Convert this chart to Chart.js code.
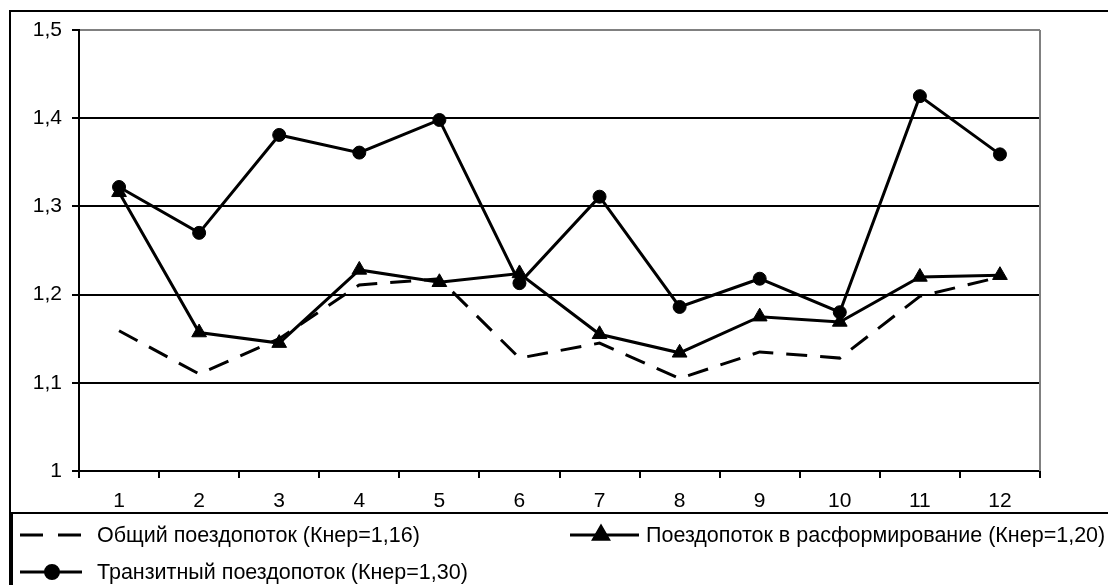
<!DOCTYPE html>
<html>
<head>
<meta charset="utf-8">
<script src="https://cdn.jsdelivr.net/npm/chart.js@4/dist/chart.umd.min.js"></script>
<style>
  html, body { margin: 0; padding: 0; background: #fff; }
  #wrap { width: 1108px; height: 585px; position: relative; }
</style>
</head>
<body>
<div id="wrap"><canvas id="myChart" width="1108" height="585"></canvas></div>
<script>
// data
const categories = ["1", "2", "3", "4", "5", "6", "7", "8", "9", "10", "11", "12"];
const obshchiy = [1.159, 1.110, 1.150, 1.211, 1.218, 1.128, 1.145, 1.105, 1.135, 1.128, 1.198, 1.220];
const rasform = [1.316, 1.157, 1.145, 1.228, 1.214, 1.224, 1.155, 1.134, 1.175, 1.169, 1.220, 1.222];
const tranzit = [1.322, 1.270, 1.381, 1.361, 1.398, 1.213, 1.311, 1.186, 1.218, 1.180, 1.425, 1.359];
const yTickLabels = ["1", "1,1", "1,2", "1,3", "1,4", "1,5"];
const seriesNames = [
  "Общий поездопоток (Кнер=1,16)",
  "Поездопоток в расформирование (Кнер=1,20)",
  "Транзитный поездопоток (Кнер=1,30)"
];

const FONT = "'Liberation Sans', Arial, sans-serif";
const DASH = [21, 13];

// frame, plot border and legend
const framePlugin = {
  id: "frame",
  afterDraw(chart) {
    const ctx = chart.ctx;
    const a = chart.chartArea;
    ctx.save();
    // grey right border of plot area
    ctx.strokeStyle = "#808080";
    ctx.lineWidth = 2;
    ctx.beginPath();
    ctx.moveTo(a.right, a.top);
    ctx.lineTo(a.right, a.bottom);
    ctx.stroke();

    // outer frame
    ctx.strokeStyle = "#000";
    ctx.lineWidth = 2;
    ctx.beginPath();
    ctx.moveTo(1108, 11);
    ctx.lineTo(10, 11);
    ctx.lineTo(10, 585);
    ctx.stroke();
    // legend box
    ctx.beginPath();
    ctx.moveTo(1108, 513);
    ctx.lineTo(12, 513);
    ctx.lineTo(12, 585);
    ctx.stroke();

    // legend items
    const items = [
      { x0: 20, x1: 82, mx: 52, tx: 97, y: 535 },
      { x0: 570, x1: 639, mx: 601, tx: 646, y: 535 },
      { x0: 20, x1: 82, mx: 52, tx: 97, y: 572 }
    ];
    ctx.font = "21.5px " + FONT;
    ctx.textBaseline = "middle";
    ctx.fillStyle = "#000";
    chart.data.datasets.forEach((ds, i) => {
      const it = items[i];
      ctx.lineWidth = 3;
      ctx.setLineDash(ds.borderDash ? [23, 15] : []);
      ctx.beginPath();
      ctx.moveTo(it.x0, it.y);
      ctx.lineTo(it.x1, it.y);
      ctx.stroke();
      ctx.setLineDash([]);
      if (ds.pointRadius > 0) {
        Chart.helpers.drawPoint(ctx, {
          pointStyle: ds.pointStyle,
          radius: ds.pointRadius,
          borderWidth: 1
        }, it.mx, it.y);
        ctx.fill();
      }
      ctx.fillText(ds.label, it.tx, it.y + 1);
    });
    ctx.restore();
  }
};

const ctx = document.getElementById("myChart").getContext("2d");
new Chart(ctx, {
  type: "line",
  data: {
    labels: categories,
    datasets: [
      {
        label: seriesNames[0],
        data: obshchiy,
        borderColor: "#000",
        borderWidth: 3,
        borderDash: DASH,
        pointRadius: 0,
        fill: false,
        tension: 0
      },
      {
        label: seriesNames[1],
        data: rasform,
        borderColor: "#000",
        backgroundColor: "#000",
        borderWidth: 3,
        pointStyle: "triangle",
        pointRadius: 8.5,
        pointBorderWidth: 1,
        fill: false,
        tension: 0
      },
      {
        label: seriesNames[2],
        data: tranzit,
        borderColor: "#000",
        backgroundColor: "#000",
        borderWidth: 3,
        pointStyle: "circle",
        pointRadius: 6.5,
        pointBorderWidth: 1,
        fill: false,
        tension: 0
      }
    ]
  },
  options: {
    responsive: false,
    animation: false,
    layout: { padding: { left: 0, top: 30, right: 68, bottom: 72 } },
    plugins: {
      legend: { display: false },
      tooltip: { enabled: false }
    },
    scales: {
      x: {
        offset: true,
        afterFit(scale) { scale.height = 42; },
        grid: {
          offset: true,
          drawOnChartArea: false,
          drawTicks: true,
          tickLength: 7,
          tickColor: "#000",
          lineWidth: 2
        },
        border: { display: true, color: "#000", width: 2 },
        ticks: {
          color: "#000",
          font: { family: FONT, size: 21 },
          padding: 11,
          maxRotation: 0
        }
      },
      y: {
        min: 1,
        max: 1.5,
        afterFit(scale) { scale.width = 79; },
        grid: {
          color: (c) => (c.tick && c.tick.value >= 1.5 ? "#808080" : "#000"),
          lineWidth: 2,
          tickLength: 7,
          tickColor: "#000"
        },
        border: { display: true, color: "#000", width: 2 },
        ticks: {
          stepSize: 0.1,
          color: "#000",
          font: { family: FONT, size: 21 },
          padding: 10,
          callback: (value, index) => yTickLabels[index]
        }
      }
    }
  },
  plugins: [framePlugin]
});
</script>
</body>
</html>
